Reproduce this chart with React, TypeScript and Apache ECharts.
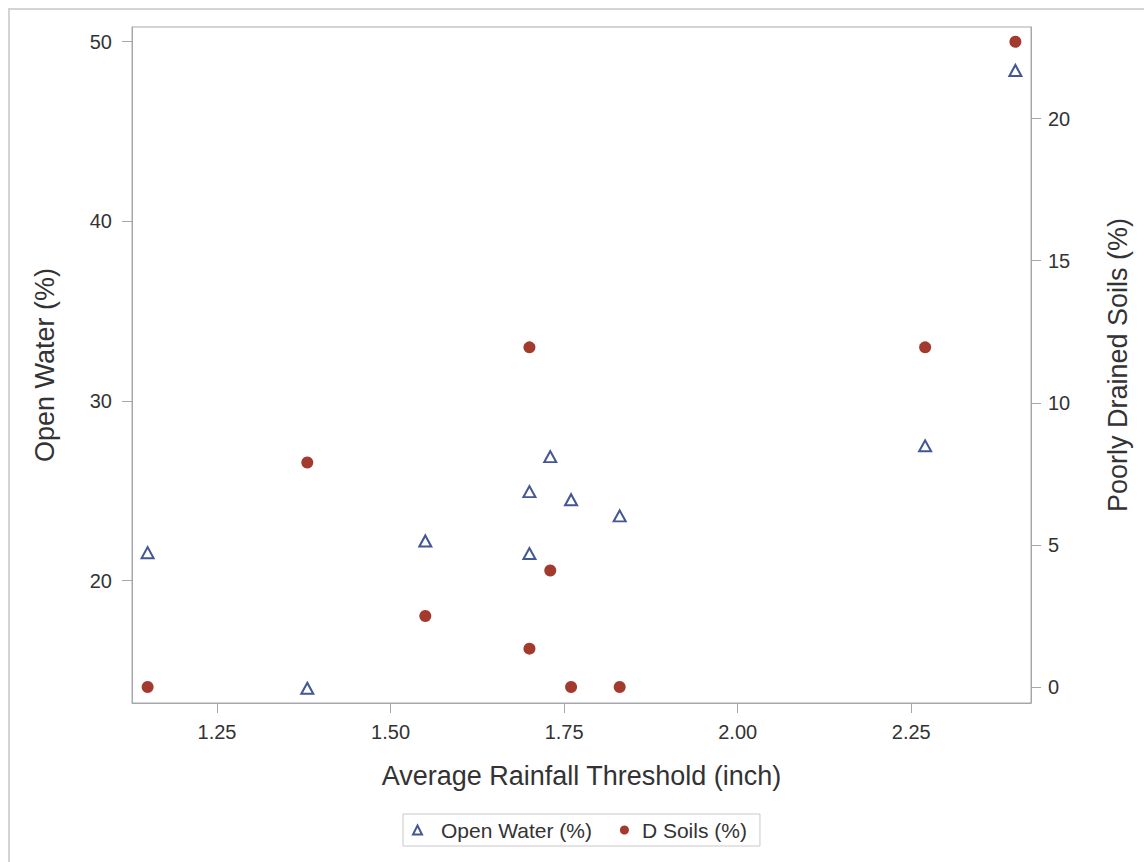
import React, { useEffect, useRef } from "react";
import * as echarts from "echarts";

// ---- data ----
const rainfall = [1.15, 1.38, 1.55, 1.7, 1.7, 1.73, 1.76, 1.83, 2.27, 2.4];
const openWater = [21.55, 14.0, 22.2, 24.95, 21.5, 26.9, 24.5, 23.6, 27.5, 48.4];
const dSoils = [0, 7.9, 2.5, 11.95, 1.35, 4.1, 0, 0, 11.95, 22.7];

const xTicks = [1.25, 1.5, 1.75, 2.0, 2.25];
const leftTicks = [20, 30, 40, 50];
const rightTicks = [0, 5, 10, 15, 20];

const seriesNames = ["Open Water (%)", "D Soils (%)"];
const xTitle = "Average Rainfall Threshold (inch)";
const leftTitle = "Open Water (%)";
const rightTitle = "Poorly Drained Soils (%)";

const AXIS_COLOR = "#a4a8ac";
const TEXT_COLOR = "#333333";
const BLUE = "#445694";
const RED = "#a23a2e";
const FONT = "'Liberation Sans', Arial, sans-serif";

export default function App() {
  const ref = useRef<HTMLDivElement>(null);

  useEffect(() => {
    if (!ref.current) return;
    const chart = echarts.init(ref.current, undefined, { renderer: "svg" });

    const owData = rainfall.map((x, i) => [x, openWater[i]]);
    const dsData = rainfall.map((x, i) => [x, dSoils[i]]);

    const axisLine = { show: true, onZero: false, lineStyle: { color: AXIS_COLOR, width: 1 } };
    const axisTickBase = { show: true, length: 10, lineStyle: { color: AXIS_COLOR, width: 1 } };
    const labelBase = { color: TEXT_COLOR, fontSize: 20, fontFamily: FONT };
    const nameBase = { color: TEXT_COLOR, fontSize: 27, fontFamily: FONT };

    chart.setOption({
      animation: false,
      backgroundColor: "transparent",
      textStyle: { fontFamily: FONT },
      grid: {
        left: 132,
        right: 113,
        top: 27,
        bottom: 159,
        show: true,
        borderColor: AXIS_COLOR,
        borderWidth: 1,
        backgroundColor: "transparent",
      },
      legend: {
        left: 403,
        top: 814,
        orient: "horizontal",
        padding: [5, 13, 5, 9],
        itemGap: 28,
        itemWidth: 9,
        itemHeight: 9,
        borderColor: "#c9c9c9",
        borderWidth: 1,
        textStyle: { color: TEXT_COLOR, fontSize: 21, fontFamily: FONT, lineHeight: 22 },
        data: [
          { name: seriesNames[0], textStyle: { padding: [0, 0, 0, 14] } },
          { name: seriesNames[1], textStyle: { padding: [0, 0, 0, 8] } },
        ],
      },
      xAxis: {
        type: "value",
        min: 1.1275,
        max: 2.4225,
        name: xTitle,
        nameLocation: "middle",
        nameGap: 59,
        nameTextStyle: nameBase,
        axisLine,
        axisTick: { ...axisTickBase, customValues: xTicks },
        axisLabel: {
          ...labelBase,
          margin: 19,
          customValues: xTicks,
          formatter: (v: number) => v.toFixed(2),
        },
        splitLine: { show: false },
      },
      yAxis: [
        {
          type: "value",
          position: "left",
          min: 13.18,
          max: 50.82,
          name: leftTitle,
          nameLocation: "middle",
          nameGap: 74,
          nameTextStyle: nameBase,
          axisLine,
          axisTick: { ...axisTickBase, customValues: leftTicks },
          axisLabel: { ...labelBase, margin: 20, customValues: leftTicks },
          splitLine: { show: false },
        },
        {
          type: "value",
          position: "right",
          min: -0.563,
          max: 23.22,
          name: rightTitle,
          nameLocation: "middle",
          nameGap: 73,
          nameTextStyle: nameBase,
          axisLine,
          axisTick: { ...axisTickBase, customValues: rightTicks },
          axisLabel: { ...labelBase, margin: 17, customValues: rightTicks },
          splitLine: { show: false },
        },
      ],
      series: [
        {
          name: seriesNames[0],
          type: "scatter",
          yAxisIndex: 0,
          symbol: "triangle",
          symbolSize: [12, 11],
          itemStyle: { color: "#ffffff", borderColor: BLUE, borderWidth: 2, opacity: 1 },
          data: owData,
          z: 3,
        },
        {
          name: seriesNames[1],
          type: "scatter",
          yAxisIndex: 1,
          symbol: "circle",
          symbolSize: 12,
          itemStyle: { color: RED, borderWidth: 0, opacity: 1 },
          data: dsData,
          z: 2,
        },
      ],
    });

    return () => chart.dispose();
  }, []);

  return (
    <div
      style={{
        position: "absolute",
        left: 0,
        top: 0,
        width: 1144,
        height: 862,
        overflow: "hidden",
        background: "#ffffff",
      }}
    >
      <div
        style={{
          position: "absolute",
          left: 8,
          top: 8,
          width: 1300,
          height: 1000,
          borderLeft: "2px solid #d4d4d4",
          borderTop: "2px solid #d4d4d4",
          boxSizing: "border-box",
        }}
      />
      <div
        ref={ref}
        style={{ position: "absolute", left: 0, top: 0, width: 1144, height: 862 }}
      />
    </div>
  );
}
